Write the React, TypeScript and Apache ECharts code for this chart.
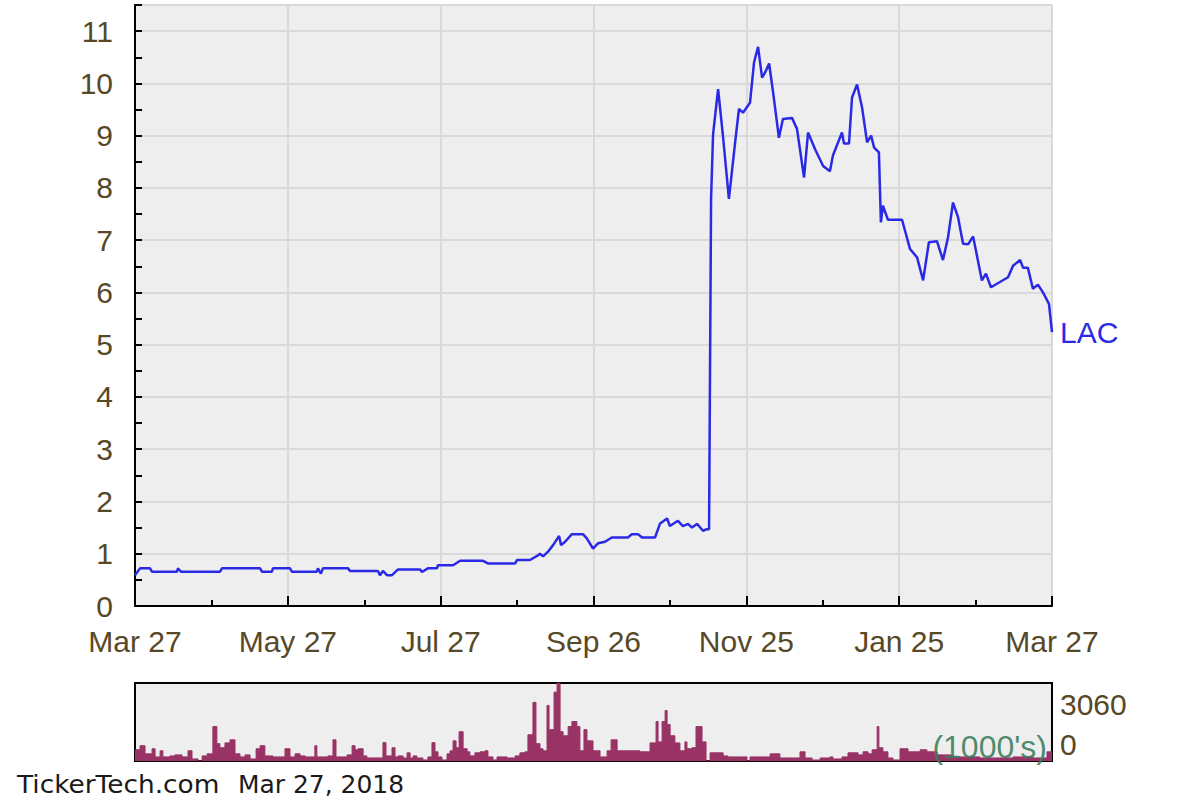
import React, { useEffect, useRef } from "react";
import * as echarts from "echarts";

const ticker = "LAC";
const dateLabels = ["Mar 27", "May 27", "Jul 27", "Sep 26", "Nov 25", "Jan 25", "Mar 27"];
const footerSite = "TickerTech.com";
const footerDate = "Mar 27, 2018";
const volumeUnit = "(1000's)";
const volumeMax = 3060;
const priceMax = 11.5;
const dayCount = 365;

// [day since Mar 27 2017, closing price]
const pricePoints: [number, number][] = [
  [0, 0.59], [2.0, 0.72], [6.0, 0.72], [6.8, 0.655], [16.7, 0.655], [17.1, 0.72], [18.3, 0.655],
  [33.8, 0.655], [34.6, 0.72], [49.8, 0.72], [50.6, 0.655], [54.5, 0.655], [54.9, 0.72], [61.7, 0.72],
  [62.5, 0.655], [72.4, 0.655], [72.8, 0.72], [74.0, 0.62], [74.8, 0.72], [84.8, 0.72], [85.6, 0.67],
  [96.7, 0.67], [97.5, 0.59], [98.7, 0.67], [100.3, 0.59], [102.3, 0.59], [104.7, 0.7], [113.5, 0.7],
  [114.2, 0.65], [116.6, 0.72], [120.2, 0.72], [120.6, 0.78], [126.6, 0.78], [129.4, 0.865], [138.5, 0.865],
  [140.5, 0.815], [151.3, 0.815], [152.1, 0.88], [157.2, 0.88], [160.4, 0.97], [161.2, 1.0], [162.4, 0.95],
  [164.4, 1.04], [166.4, 1.165], [168.8, 1.34], [169.6, 1.165], [171.2, 1.23], [173.9, 1.375], [178.3, 1.375],
  [179.9, 1.29], [182.3, 1.1], [184.3, 1.2], [187.1, 1.23], [189.8, 1.31], [196.2, 1.31], [197.8, 1.375],
  [200.2, 1.375], [201.8, 1.31], [207.0, 1.31], [209.0, 1.58], [211.8, 1.675], [212.9, 1.53], [216.1, 1.63],
  [218.1, 1.53], [220.1, 1.57], [221.7, 1.5], [223.7, 1.57], [226.1, 1.44], [227.7, 1.47], [228.5, 1.47],
  [229.3, 7.8], [230.1, 9.03], [232.1, 9.89], [234.1, 8.96], [236.4, 7.79], [238.8, 8.84], [240.4, 9.51],
  [242.0, 9.44], [244.8, 9.63], [246.4, 10.4], [248.0, 10.7], [249.6, 10.11], [250.8, 10.21], [252.4, 10.38],
  [253.9, 9.86], [256.3, 8.96], [257.9, 9.32], [261.5, 9.34], [263.5, 9.13], [266.3, 8.2], [267.9, 9.06],
  [270.7, 8.74], [273.9, 8.42], [276.6, 8.32], [277.8, 8.62], [281.4, 9.06], [282.2, 8.85], [284.2, 8.85],
  [285.4, 9.73], [287.4, 9.98], [289.4, 9.54], [291.4, 8.87], [293.0, 9.0], [294.2, 8.77], [296.1, 8.68],
  [296.9, 7.34], [297.7, 7.66], [299.7, 7.39], [305.3, 7.39], [308.5, 6.83], [311.3, 6.67], [313.7, 6.23],
  [316.0, 6.96], [319.2, 6.98], [321.6, 6.62], [323.6, 7.05], [325.6, 7.72], [327.6, 7.44], [329.6, 6.93],
  [331.6, 6.92], [333.6, 7.07], [337.1, 6.23], [338.7, 6.36], [340.7, 6.1], [344.3, 6.2], [347.5, 6.29],
  [349.5, 6.51], [352.3, 6.62], [353.5, 6.47], [355.4, 6.47], [357.4, 6.07], [359.4, 6.15], [361.4, 6.0],
  [363.8, 5.78], [365.0, 5.24],
];

// [day the level starts, volume in thousands]
const volumePoints: [number, number][] = [
  [0, 440], [2.0, 600], [4.0, 280], [6.8, 480], [8.0, 160], [10.0, 400], [11.1, 160], [13.9, 200],
  [15.9, 240], [18.7, 160], [21.1, 400], [22.7, 80], [25.1, 0], [26.7, 200], [28.7, 280], [31.0, 1350],
  [32.6, 680], [33.8, 520], [35.8, 710], [37.8, 830], [39.8, 280], [41.8, 160], [43.8, 240], [45.8, 80],
  [48.2, 480], [49.8, 600], [51.7, 200], [54.9, 160], [59.7, 480], [61.7, 160], [63.7, 280], [65.7, 200],
  [67.7, 160], [71.6, 600], [72.4, 160], [76.8, 200], [78.8, 830], [80.0, 160], [84.4, 240], [86.4, 600],
  [87.6, 440], [88.8, 480], [90.8, 200], [92.3, 120], [98.7, 720], [99.9, 200], [102.3, 520], [103.5, 160],
  [104.7, 200], [106.7, 120], [108.3, 320], [109.5, 120], [110.7, 200], [112.2, 120], [114.6, 40], [116.6, 160],
  [118.2, 720], [119.4, 360], [120.6, 160], [122.2, 40], [124.2, 280], [125.4, 400], [126.6, 790], [127.8, 520],
  [129.0, 1150], [130.6, 480], [132.2, 360], [133.3, 200], [135.3, 320], [137.3, 360], [139.3, 400], [140.5, 160],
  [142.5, 40], [144.1, 160], [148.1, 120], [151.3, 200], [153.2, 320], [155.2, 360], [156.4, 1030], [158.4, 2300],
  [159.6, 680], [161.2, 480], [162.4, 400], [164.0, 2180], [164.8, 1230], [166.8, 2700], [168.0, 3060], [169.2, 1150],
  [170.4, 990], [172.4, 1350], [173.9, 1550], [175.9, 1350], [177.1, 400], [178.7, 1230], [179.9, 790], [182.3, 400],
  [185.1, 160], [187.9, 400], [189.5, 830], [191.9, 400], [201.0, 360], [205.0, 710], [207.4, 1550], [208.2, 750],
  [209.8, 1550], [211.0, 1980], [211.8, 1430], [213.0, 990], [214.9, 710], [216.9, 400], [218.9, 750], [219.7, 480],
  [221.7, 520], [223.3, 1350], [225.7, 750], [227.3, 0], [228.9, 320], [234.1, 200], [236.0, 160], [243.6, 0],
  [244.8, 160], [252.8, 280], [256.7, 120], [264.7, 360], [266.7, 120], [269.5, 40], [272.7, 120], [276.6, 160],
  [277.8, 80], [281.4, 160], [283.8, 320], [287.8, 240], [289.8, 360], [291.8, 280], [293.4, 440], [295.4, 1350],
  [296.1, 520], [297.7, 360], [299.7, 120], [301.7, 40], [304.5, 480], [307.7, 360], [312.5, 440], [315.2, 360],
  [319.2, 240], [325.6, 160], [336.3, 120], [349.5, 160], [357.4, 120], [363.0, 360], [365.0, 360],
];

const FONT = "'Liberation Sans', Arial, sans-serif";
const LABEL_COLOR = "#574826";
const LINE_COLOR = "#2a2ae6";
const VOL_COLOR = "#993366";
const GRID_LINE = "#d9d9d9";

export default function App() {
  const ref = useRef<HTMLDivElement>(null);

  useEffect(() => {
    if (!ref.current) return;
    const chart = echarts.init(ref.current, null, { renderer: "svg" });
    const step = dayCount / 6;

    chart.setOption({
      animation: false,
      backgroundColor: "#ffffff",
      grid: [
        { left: 135, top: 5, width: 917, height: 601, show: true, backgroundColor: "#eeeeee", borderWidth: 0 },
        { left: 135, top: 683, width: 917, height: 78, show: true, backgroundColor: "#eeeeee", borderColor: "#000", borderWidth: 2 },
      ],
      xAxis: [
        {
          type: "value",
          gridIndex: 0,
          min: 0,
          max: dayCount,
          interval: step,
          axisLine: { show: true, onZero: false, lineStyle: { color: "#000", width: 2 } },
          axisTick: { show: true, inside: true, length: 10, lineStyle: { color: "#000", width: 2 } },
          minorTick: { show: true, splitNumber: 2, length: 6, lineStyle: { color: "#000", width: 2 } },
          splitLine: { show: true, lineStyle: { color: GRID_LINE, width: 2 } },
          minorSplitLine: { show: false },
          axisLabel: {
            color: LABEL_COLOR,
            fontSize: 30,
            fontFamily: FONT,
            margin: 20,
            showMinLabel: true,
            showMaxLabel: true,
            formatter: (v: number) => dateLabels[Math.round(v / step)] ?? "",
          },
        },
        { type: "value", gridIndex: 1, min: 0, max: dayCount, show: false },
      ],
      yAxis: [
        {
          type: "value",
          gridIndex: 0,
          min: 0,
          max: priceMax,
          interval: 1,
          axisLine: { show: true, onZero: false, lineStyle: { color: "#000", width: 2 } },
          axisTick: { show: true, inside: true, length: 7, lineStyle: { color: "#000", width: 2 } },
          minorTick: { show: true, splitNumber: 2, length: 7, lineStyle: { color: "#000", width: 2 } },
          splitLine: { show: true, lineStyle: { color: GRID_LINE, width: 2 } },
          axisLabel: {
            color: LABEL_COLOR,
            fontSize: 30,
            fontFamily: FONT,
            margin: 22,
            showMaxLabel: false,
            formatter: (v: number) => (v > 11 ? "" : String(v)),
          },
        },
        {
          type: "value",
          gridIndex: 1,
          position: "right",
          min: 0,
          max: volumeMax,
          interval: volumeMax,
          axisLine: { show: false },
          axisTick: { show: false },
          splitLine: { show: false },
          axisLabel: {
            color: LABEL_COLOR,
            fontSize: 30,
            fontFamily: FONT,
            margin: 8,
            verticalAlignMinLabel: "bottom",
            verticalAlignMaxLabel: "top",
            formatter: (v: number) => (v >= volumeMax ? `{hi|${v}}` : `{lo|${v}}`),
            rich: {
              hi: { color: LABEL_COLOR, fontSize: 30, fontFamily: FONT, padding: [6, 0, 0, 0] },
              lo: { color: LABEL_COLOR, fontSize: 30, fontFamily: FONT, padding: [0, 0, 2, 0] },
            },
          },
        },
      ],
      series: [
        {
          type: "line",
          xAxisIndex: 1,
          yAxisIndex: 1,
          step: "end",
          data: volumePoints,
          showSymbol: false,
          symbol: "none",
          lineStyle: { color: VOL_COLOR, width: 1 },
          areaStyle: { color: VOL_COLOR, opacity: 1 },
          z: 2,
        },
        {
          type: "line",
          xAxisIndex: 0,
          yAxisIndex: 0,
          data: pricePoints,
          showSymbol: false,
          symbol: "none",
          lineStyle: { color: LINE_COLOR, width: 2.5 },
          endLabel: {
            show: true,
            formatter: ticker,
            color: LINE_COLOR,
            fontSize: 30,
            fontFamily: FONT,
            distance: 8,
          },
          z: 3,
        },
      ],
      graphic: [
        {
          type: "text",
          x: 1047,
          y: 747,
          z: 10,
          style: {
            text: volumeUnit,
            fill: "#3b7d5c",
            font: `32px ${FONT}`,
            align: "right",
            verticalAlign: "middle",
            opacity: 0.9,
          },
        },
        {
          type: "text",
          x: 17,
          y: 785,
          scaleX: 1.1,
          style: {
            text: footerSite,
            fill: "#1a1a1a",
            font: `24px 'DejaVu Sans', sans-serif`,
            align: "left",
            verticalAlign: "middle",
          },
        },
        {
          type: "text",
          x: 238,
          y: 785,
          scaleX: 1.04,
          style: {
            text: footerDate,
            fill: "#1a1a1a",
            font: `24px 'DejaVu Sans', sans-serif`,
            align: "left",
            verticalAlign: "middle",
          },
        },
      ],
    });

    return () => chart.dispose();
  }, []);

  return (
    <div
      ref={ref}
      style={{ position: "fixed", left: 0, top: 0, width: 1200, height: 800, background: "#fff" }}
    />
  );
}
